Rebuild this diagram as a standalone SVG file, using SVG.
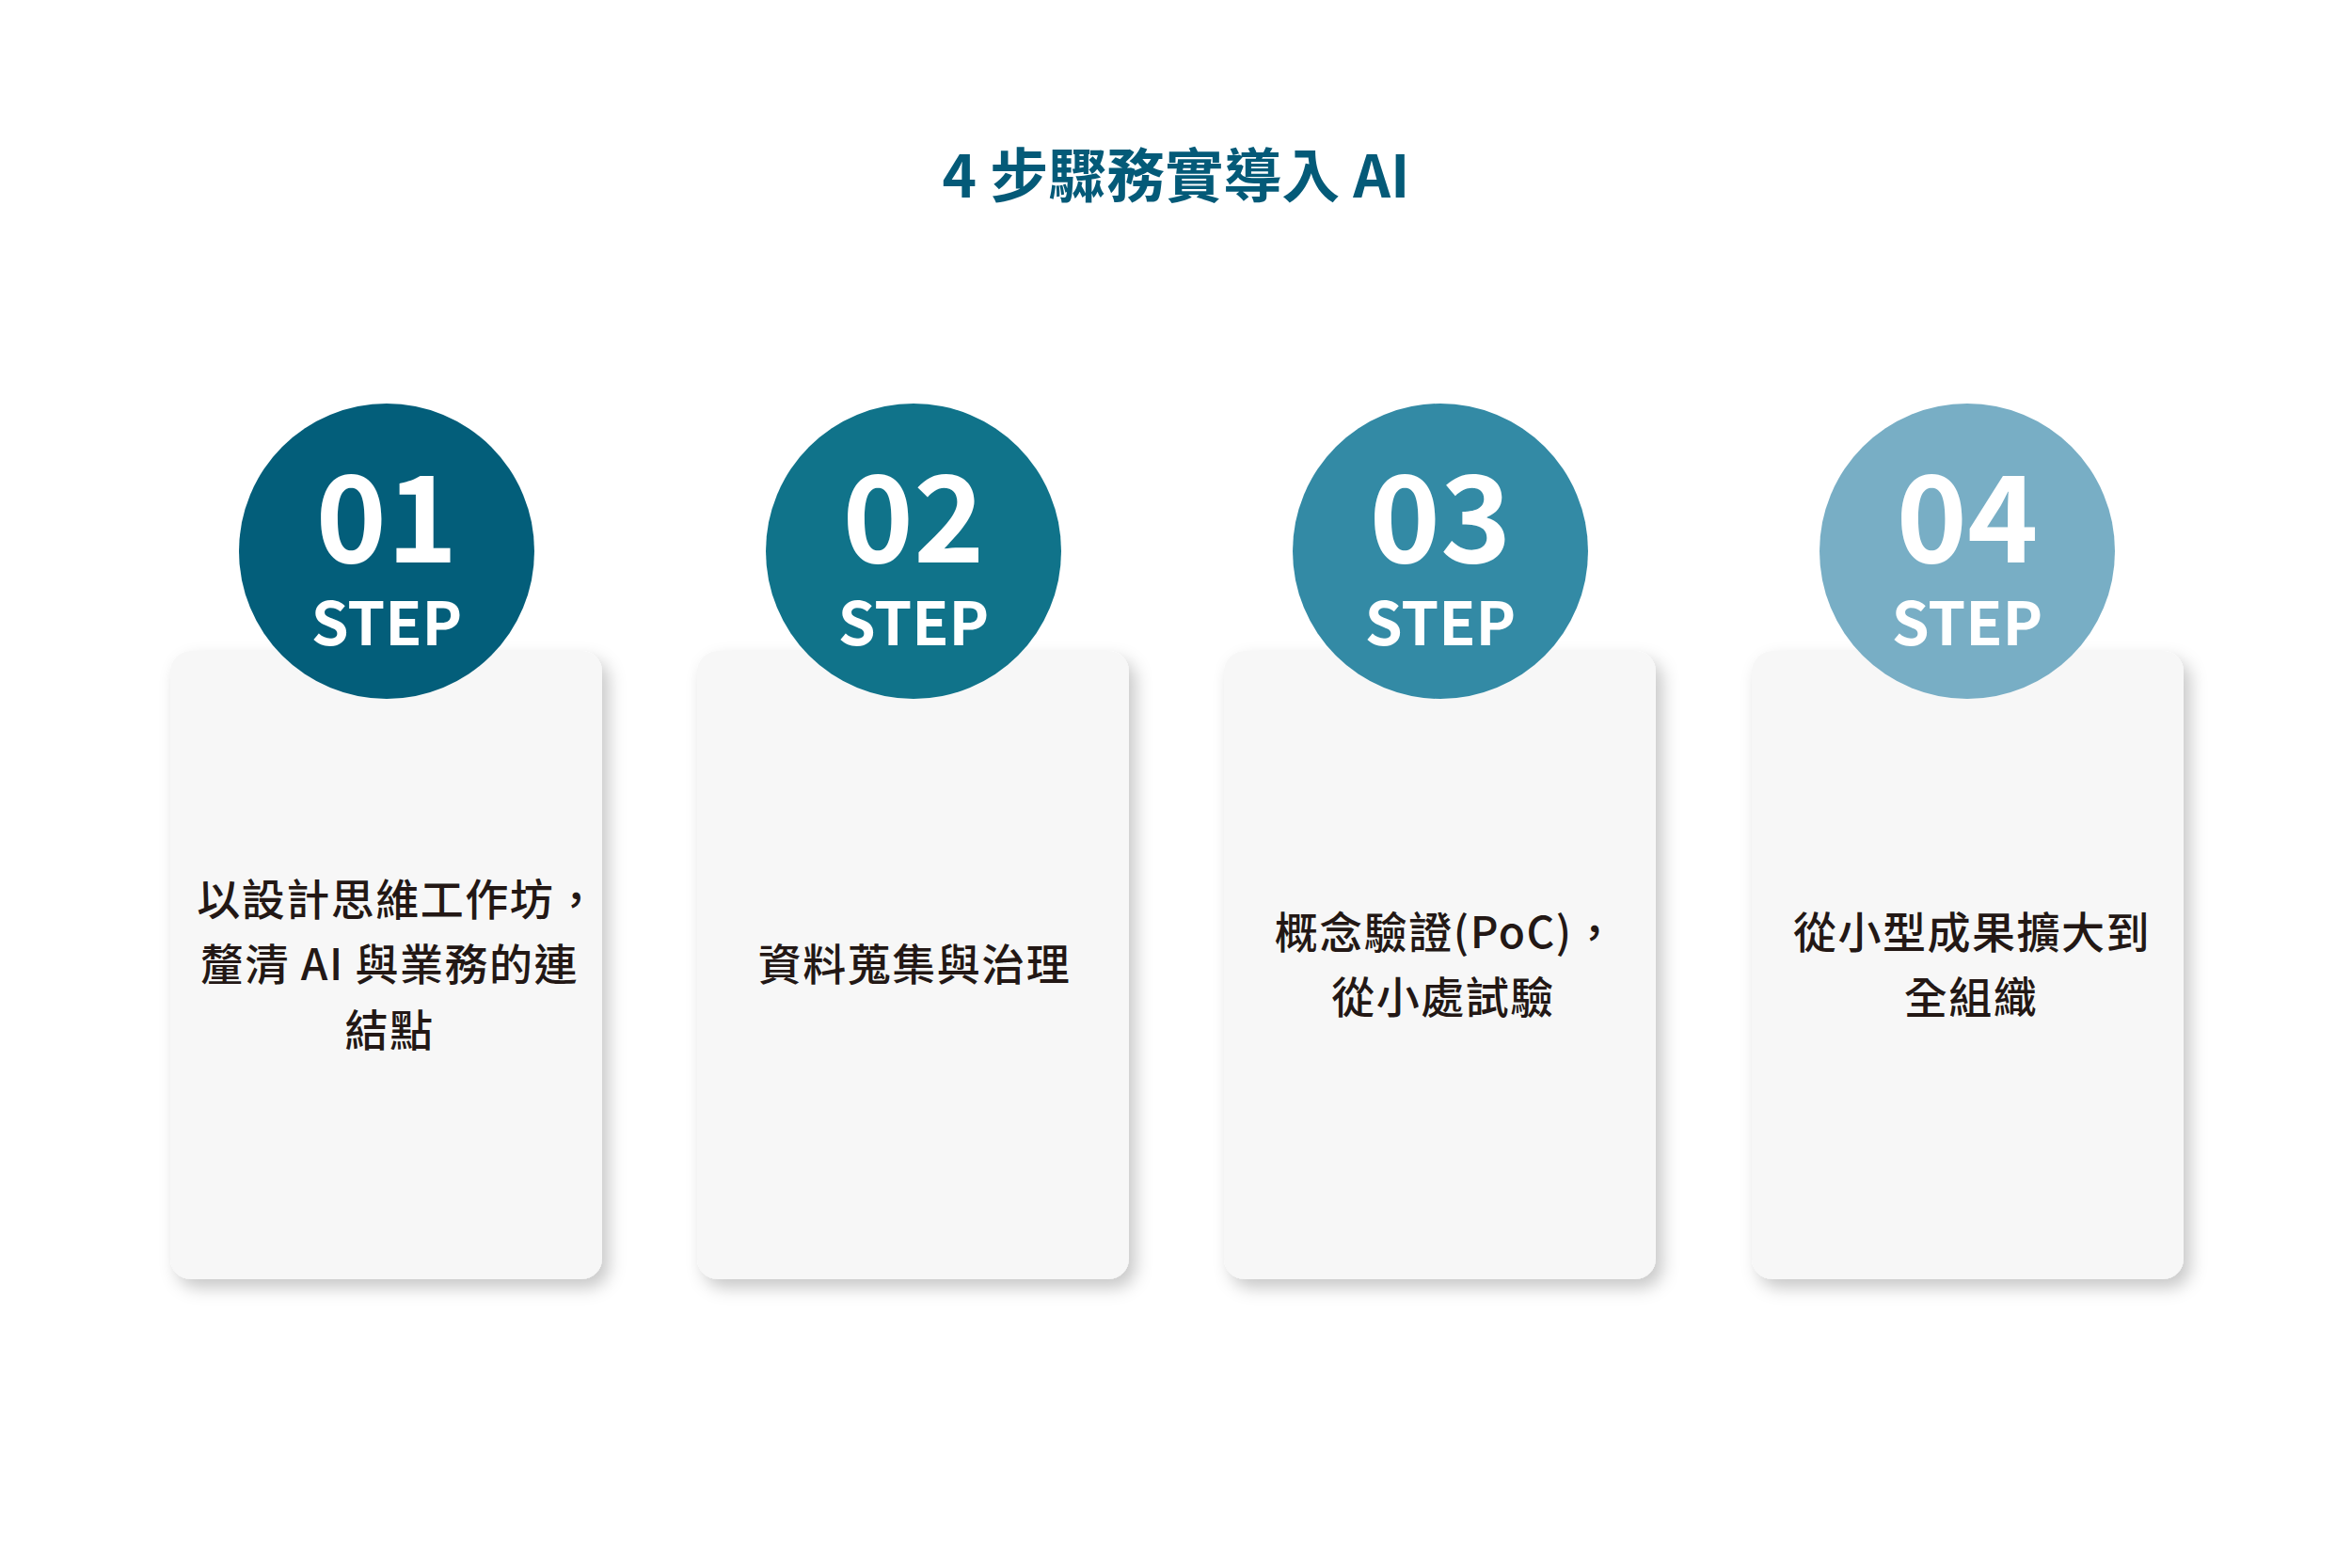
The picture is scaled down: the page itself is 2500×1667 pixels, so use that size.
<svg xmlns="http://www.w3.org/2000/svg" width="2500" height="1667" viewBox="0 0 2500 1667">
  <defs>
    <filter id="shadow" x="-20%" y="-20%" width="150%" height="150%">
      <feDropShadow dx="7" dy="9" stdDeviation="9" flood-color="#000000" flood-opacity="0.22"/>
    </filter>
  </defs>
  <style>
    .title { font-family: "Noto Sans CJK TC", "Noto Sans", sans-serif; font-weight: 700; font-size: 62px; fill: #045a78; text-anchor: middle; }
    .card { fill: #f7f7f7; filter: url(#shadow); }
    .num { font-family: "Noto Sans CJK TC", "Noto Sans", sans-serif; font-weight: 700; font-size: 128px; fill: #ffffff; text-anchor: middle; }
    .step { font-family: "Noto Sans CJK TC", "Noto Sans", sans-serif; font-weight: 700; font-size: 64px; fill: #ffffff; text-anchor: middle; }
    .body { font-family: "Noto Sans CJK TC", "Noto Sans", sans-serif; font-weight: 500; font-size: 46px; letter-spacing: 1.5px; fill: #231815; text-anchor: middle; }
  </style>
  <rect x="0" y="0" width="2500" height="1667" fill="#ffffff"/>
  <text class="title" x="1250" y="210">4 步驟務實導入 AI</text>

  <g id="connectors"></g>

  <g id="step1">
    <rect class="card" x="181" y="692" width="459" height="668" rx="22" ry="22"/>
    <circle cx="411" cy="586" r="157" fill="#035e7a"/>
    <text class="num" x="411" y="598">01</text>
    <text class="step" x="411" y="686">STEP</text>
    <text class="body" x="423" y="973">以設計思維工作坊，</text>
    <text class="body" x="414" y="1042">釐清 AI 與業務的連</text>
    <text class="body" x="414" y="1112">結點</text>
  </g>

  <g id="step2">
    <rect class="card" x="741" y="692" width="459" height="668" rx="22" ry="22"/>
    <circle cx="971" cy="586" r="157" fill="#10738a"/>
    <text class="num" x="971" y="598">02</text>
    <text class="step" x="971" y="686">STEP</text>
    <text class="body" x="972" y="1042">資料蒐集與治理</text>
  </g>

  <g id="step3">
    <rect class="card" x="1301" y="692" width="459" height="668" rx="22" ry="22"/>
    <circle cx="1531" cy="586" r="157" fill="#338aa5"/>
    <text class="num" x="1531" y="598">03</text>
    <text class="step" x="1531" y="686">STEP</text>
    <text class="body" x="1537" y="1008">概念驗證(PoC)，</text>
    <text class="body" x="1534" y="1077">從小處試驗</text>
  </g>

  <g id="step4">
    <rect class="card" x="1862" y="692" width="459" height="668" rx="22" ry="22"/>
    <circle cx="2091" cy="586" r="157" fill="#78aec5"/>
    <text class="num" x="2091" y="598">04</text>
    <text class="step" x="2091" y="686">STEP</text>
    <text class="body" x="2096" y="1008">從小型成果擴大到</text>
    <text class="body" x="2095" y="1077">全組織</text>
  </g>
</svg>
